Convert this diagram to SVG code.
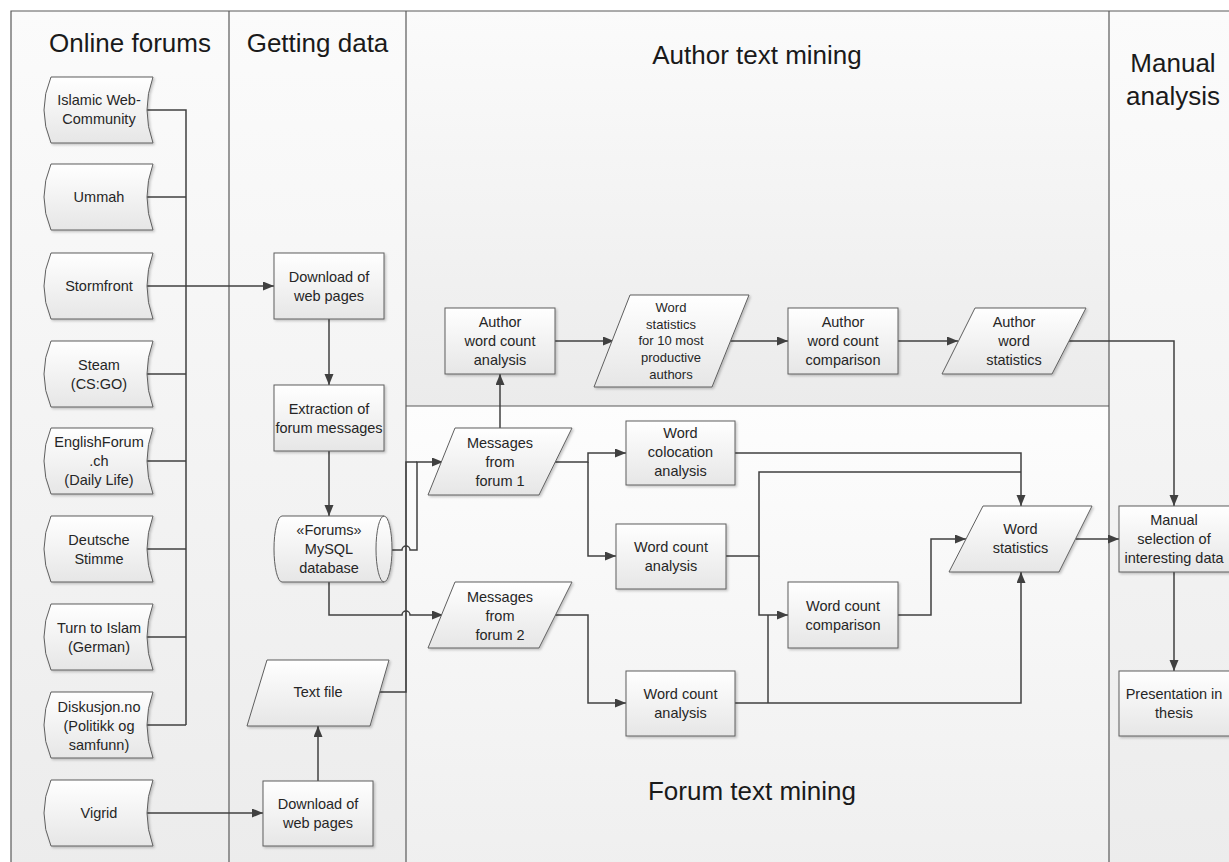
<svg xmlns="http://www.w3.org/2000/svg" width="1229" height="862" viewBox="0 0 1229 862">
<style>
.lane{stroke:#5a5a5a;stroke-width:1.2}
.title{font-family:"Liberation Sans",Arial,sans-serif;font-size:26px;fill:#1a1a1a;text-anchor:middle}
.n{fill:url(#nodeGrad);stroke:#5f5f5f;stroke-width:1;filter:url(#sh)}
.t{font-family:"Liberation Sans",Arial,sans-serif;font-size:14.5px;fill:#262626;text-anchor:middle}
.ts{font-family:"Liberation Sans",Arial,sans-serif;font-size:13px;fill:#262626;text-anchor:middle}
.c{fill:none;stroke:#404040;stroke-width:1.5}
.a{marker-end:url(#arr)}
</style>
<defs>
<linearGradient id="nodeGrad" x1="0" y1="0" x2="0" y2="1"><stop offset="0" stop-color="#ffffff"/><stop offset="1" stop-color="#e6e6e6"/></linearGradient>
<linearGradient id="laneGrad" x1="0" y1="0" x2="0" y2="1"><stop offset="0" stop-color="#fbfbfb"/><stop offset="1" stop-color="#ececec"/></linearGradient>
<linearGradient id="authGrad" x1="0" y1="0" x2="0" y2="1"><stop offset="0" stop-color="#fbfbfb"/><stop offset="1" stop-color="#ebebeb"/></linearGradient>
<linearGradient id="forumGrad" x1="0" y1="0" x2="0" y2="1"><stop offset="0" stop-color="#fdfdfd"/><stop offset="1" stop-color="#efefef"/></linearGradient>
<filter id="sh" x="-10%" y="-10%" width="130%" height="130%"><feDropShadow dx="1.5" dy="1.5" stdDeviation="0.8" flood-color="#000" flood-opacity="0.22"/></filter>
<marker id="arr" markerUnits="userSpaceOnUse" markerWidth="12" markerHeight="10" refX="11" refY="4.5" orient="auto"><path d="M0,0 L11,4.5 L0,9 Z" fill="#404040"/></marker>
</defs>
<rect width="1229" height="862" fill="#ffffff"/>
<g id="lanes">
<rect x="11" y="11" width="218" height="860" fill="url(#laneGrad)"/>
<rect x="229" y="11" width="177" height="860" fill="url(#laneGrad)"/>
<rect x="406" y="11" width="703" height="395" fill="url(#authGrad)"/>
<rect x="406" y="406" width="703" height="465" fill="url(#forumGrad)"/>
<rect x="1109" y="11" width="130" height="860" fill="url(#laneGrad)"/>
<path class="lane" d="M11 871 V11 H1240 M229 11 V871 M406 11 V871 M1109 11 V871 M406 406 H1109" fill="none"/>
<text class="title" x="130" y="52">Online forums</text>
<text class="title" x="317.5" y="52">Getting data</text>
<text class="title" x="757" y="64">Author text mining</text>
<text class="title" x="1173" y="72">Manual</text>
<text class="title" x="1173" y="105">analysis</text>
<text class="title" x="752" y="800">Forum text mining</text>
</g>
<g id="connectors">
<path class="c" d="M147 110 H186 V725"/>
<path class="c" d="M147 197 H186"/>
<path class="c a" d="M147 286 H274"/>
<path class="c" d="M147 374 H186"/>
<path class="c" d="M147 461 H186"/>
<path class="c" d="M147 549 H186"/>
<path class="c" d="M147 637 H186"/>
<path class="c" d="M147 725 H186"/>
<path class="c a" d="M147 813 H263"/>
<path class="c a" d="M329 319 V385"/>
<path class="c a" d="M329 451 V516"/>
<path class="c a" d="M381 550 H402 A4 4 0 0 1 410 550 H417 V462 H443"/>
<path class="c" d="M376 692 H406 V462 H417"/>
<path class="c a" d="M329 582 V615 H402 A4 4 0 0 1 410 615 H443"/>
<path class="c a" d="M318 781 V726"/>
<path class="c a" d="M500 428 V374"/>
<path class="c a" d="M555 341 H614"/>
<path class="c a" d="M730 341 H788"/>
<path class="c a" d="M898 341 H958"/>
<path class="c a" d="M1069 341 H1174 V506"/>
<path class="c a" d="M555 462 H588 V453 H626"/>
<path class="c a" d="M588 462 V556 H616"/>
<path class="c a" d="M555 615 H588 V703 H626"/>
<path class="c a" d="M735 453 H1021 V506"/>
<path class="c" d="M726 556 H759 V472 H1021"/>
<path class="c a" d="M759 556 V615 H788"/>
<path class="c a" d="M735 703 H1021 V572"/>
<path class="c" d="M768 703 V615"/>
<path class="c a" d="M898 615 H931 V539 H966"/>
<path class="c a" d="M1076 539 H1119"/>
<path class="c a" d="M1174 572 V671"/>
</g>
<g id="islamic" transform="translate(0,77)"><path class="n" d="M51 0 H153 Q141 33 153 66 H51 Q37 33 51 0 Z"/><text class="t" x="99" y="28">Islamic Web-</text><text class="t" x="99" y="47">Community</text></g>
<g id="ummah" transform="translate(0,164)"><path class="n" d="M51 0 H153 Q141 33 153 66 H51 Q37 33 51 0 Z"/><text class="t" x="99" y="38">Ummah</text></g>
<g id="stormfront" transform="translate(0,253)"><path class="n" d="M51 0 H153 Q141 33 153 66 H51 Q37 33 51 0 Z"/><text class="t" x="99" y="38">Stormfront</text></g>
<g id="steam" transform="translate(0,341)"><path class="n" d="M51 0 H153 Q141 33 153 66 H51 Q37 33 51 0 Z"/><text class="t" x="99" y="28.5">Steam</text><text class="t" x="99" y="47.5">(CS:GO)</text></g>
<g id="englishforum" transform="translate(0,428)"><path class="n" d="M51 0 H153 Q141 33 153 66 H51 Q37 33 51 0 Z"/><text class="t" x="99" y="19">EnglishForum</text><text class="t" x="99" y="38">.ch</text><text class="t" x="99" y="57">(Daily Life)</text></g>
<g id="deutsche" transform="translate(0,516)"><path class="n" d="M51 0 H153 Q141 33 153 66 H51 Q37 33 51 0 Z"/><text class="t" x="99" y="28.5">Deutsche</text><text class="t" x="99" y="47.5">Stimme</text></g>
<g id="turntoislam" transform="translate(0,604)"><path class="n" d="M51 0 H153 Q141 33 153 66 H51 Q37 33 51 0 Z"/><text class="t" x="99" y="28.5">Turn to Islam</text><text class="t" x="99" y="47.5">(German)</text></g>
<g id="diskusjon" transform="translate(0,692)"><path class="n" d="M51 0 H153 Q141 33 153 66 H51 Q37 33 51 0 Z"/><text class="t" x="99" y="20">Diskusjon.no</text><text class="t" x="99" y="39">(Politikk og</text><text class="t" x="99" y="58">samfunn)</text></g>
<g id="vigrid" transform="translate(0,780)"><path class="n" d="M51 0 H153 Q141 33 153 66 H51 Q37 33 51 0 Z"/><text class="t" x="99" y="38">Vigrid</text></g>
<g id="download1"><rect class="n" x="274" y="253" width="110" height="66"/><text class="t" x="329" y="282">Download of</text><text class="t" x="329" y="301">web pages</text></g>
<g id="extraction"><rect class="n" x="274" y="385" width="110" height="66"/><text class="t" x="329" y="414">Extraction of</text><text class="t" x="329" y="433">forum messages</text></g>
<g id="database"><path class="n" d="M282 516 H384 A8 33 0 0 1 384 582 H282 A8 33 0 0 1 282 516 Z"/><path d="M384 516 A8 33 0 0 0 384 582" fill="none" stroke="#5f5f5f" stroke-width="1"/><text class="t" x="329" y="535">«Forums»</text><text class="t" x="329" y="554">MySQL</text><text class="t" x="329" y="573">database</text></g>
<g id="textfile"><path class="n" d="M267 660 H389 L370 726 H247 Z"/><text class="t" x="318" y="697">Text file</text></g>
<g id="download2"><rect class="n" x="263" y="781" width="110" height="65"/><text class="t" x="318" y="809">Download of</text><text class="t" x="318" y="828">web pages</text></g>
<g id="messages1"><path class="n" d="M455 428 H572 L539 495 H428 Z"/><text class="t" x="500" y="448">Messages</text><text class="t" x="500" y="467">from</text><text class="t" x="500" y="486">forum 1</text></g>
<g id="messages2"><path class="n" d="M455 582 H572 L539 648 H428 Z"/><text class="t" x="500" y="602">Messages</text><text class="t" x="500" y="621">from</text><text class="t" x="500" y="640">forum 2</text></g>
<g id="authorwca"><rect class="n" x="445" y="308" width="110" height="66"/><text class="t" x="500" y="327">Author</text><text class="t" x="500" y="346">word count</text><text class="t" x="500" y="365">analysis</text></g>
<g id="wordstats10"><path class="n" d="M630 295 H749 L712 387 H594 Z"/><text class="ts" x="671" y="311.5">Word</text><text class="ts" x="671" y="328.5">statistics</text><text class="ts" x="671" y="345">for 10 most</text><text class="ts" x="671" y="361.5">productive</text><text class="ts" x="671" y="378.5">authors</text></g>
<g id="authorwcc"><rect class="n" x="788" y="308" width="110" height="66"/><text class="t" x="843" y="327">Author</text><text class="t" x="843" y="346">word count</text><text class="t" x="843" y="365">comparison</text></g>
<g id="authorws"><path class="n" d="M975 308 H1086 L1052 374 H942 Z"/><text class="t" x="1014" y="327">Author</text><text class="t" x="1014" y="346">word</text><text class="t" x="1014" y="365">statistics</text></g>
<g id="colocation"><rect class="n" x="626" y="421" width="109" height="64"/><text class="t" x="680.5" y="438">Word</text><text class="t" x="680.5" y="457">colocation</text><text class="t" x="680.5" y="476">analysis</text></g>
<g id="wca1"><rect class="n" x="616" y="524" width="110" height="65"/><text class="t" x="671" y="552">Word count</text><text class="t" x="671" y="571">analysis</text></g>
<g id="wca2"><rect class="n" x="626" y="671" width="109" height="65"/><text class="t" x="680.5" y="699">Word count</text><text class="t" x="680.5" y="718">analysis</text></g>
<g id="wcc"><rect class="n" x="788" y="582" width="110" height="66"/><text class="t" x="843" y="610.5">Word count</text><text class="t" x="843" y="629.5">comparison</text></g>
<g id="wordstats"><path class="n" d="M983 506 H1092 L1059 572 H949 Z"/><text class="t" x="1020.5" y="534">Word</text><text class="t" x="1020.5" y="553">statistics</text></g>
<g id="manualsel"><rect class="n" x="1119" y="506" width="112" height="66"/><text class="t" x="1174" y="525">Manual</text><text class="t" x="1174" y="544">selection of</text><text class="t" x="1174" y="563">interesting data</text></g>
<g id="presentation"><rect class="n" x="1119" y="671" width="112" height="65"/><text class="t" x="1174" y="699">Presentation in</text><text class="t" x="1174" y="718">thesis</text></g>
</svg>
